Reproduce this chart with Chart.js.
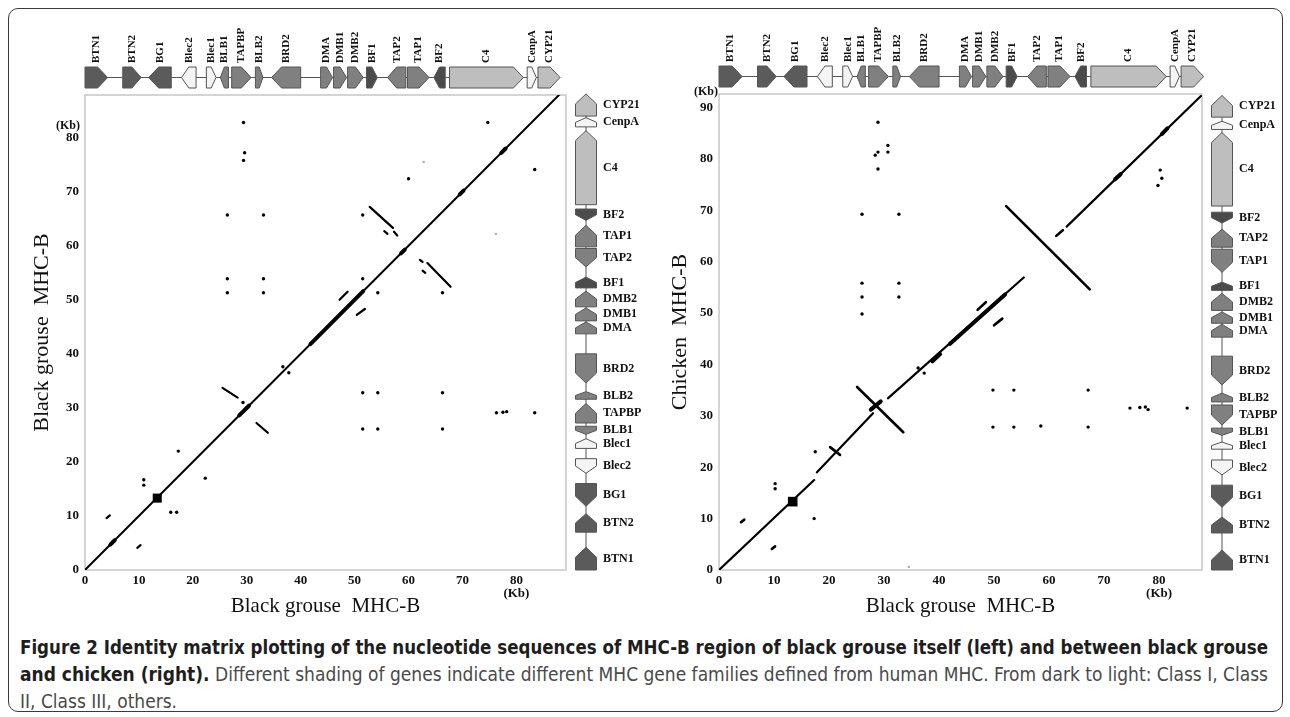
<!DOCTYPE html>
<html>
<head>
<meta charset="utf-8">
<script src="https://cdn.jsdelivr.net/npm/chart.js@4.4.1/dist/chart.umd.min.js"></script>
<style>
  html, body { margin: 0; padding: 0; background: #fff; }
  #fig { position: relative; width: 1290px; height: 717px; overflow: hidden; }
  #frame { position: absolute; left: 8px; top: 8px; width: 1275px; height: 704px;
           border: 1.5px solid #3a3a3a; border-radius: 10px; box-sizing: border-box; }
  canvas { position: absolute; top: 0; }
  #c1 { left: 0; }
  #c2 { left: 645px; }
  .ln { position: absolute; left: 20px; white-space: nowrap; transform-origin: 0 0;
        font-family: "Liberation Sans Narrow", "DejaVu Sans Condensed", "DejaVu Sans", sans-serif;
        font-stretch: condensed; font-size: 20px; line-height: 27px; color: #4a4a4a; }
  .ln b { color: #1e1e1e; }
</style>
</head>
<body>
<div id="fig">
  <div id="frame"></div>
  <canvas id="c1" width="645" height="620"></canvas>
  <canvas id="c2" width="645" height="620"></canvas>
  <span class="ln" id="l1" style="top:634px"><b>Figure 2 Identity matrix plotting of the nucleotide sequences of MHC-B region of black grouse itself (left) and between black grouse</b></span>
  <span class="ln" id="l2" style="top:661px"><b>and chicken (right).</b> Different shading of genes indicate different MHC gene families defined from human MHC. From dark to light: Class I, Class</span>
  <span class="ln" id="l3" style="top:688px">II, Class III, others.</span>
</div>
<script>
// gene maps (kb). strand: 1 forward, -1 reverse. class: 0 BF, 1 BTN/BG, 2 class II, 3 class III, 4 others
var grouseGenes  = ['BTN1','BTN2','BG1','Blec2','Blec1','BLB1','TAPBP','BLB2','BRD2','DMA','DMB1','DMB2','BF1','TAP2','TAP1','BF2','C4','CenpA','CYP21'];
var grouseStart  = [0, 7.0, 11.8, 17.9, 22.5, 25.1, 27.2, 31.6, 34.6, 43.7, 46.1, 48.7, 52.2, 56.1, 59.8, 64.7, 67.6, 82.0, 84.0];
var grouseEnd    = [4.2, 10.4, 16.0, 20.6, 24.3, 26.6, 30.8, 33.0, 40.0, 45.9, 48.5, 51.6, 54.2, 59.5, 63.8, 66.8, 81.3, 83.7, 88.1];
var grouseStrand = [1, 1, -1, -1, 1, -1, 1, 1, -1, 1, 1, 1, 1, -1, 1, -1, 1, 1, 1];
var grouseClass  = [1, 1, 1, 4, 4, 2, 2, 2, 2, 2, 2, 2, 0, 2, 2, 0, 3, 4, 3];

var chickenGenes  = ['BTN1','BTN2','BG1','Blec2','Blec1','BLB1','TAPBP','BLB2','BRD2','DMA','DMB1','DMB2','BF1','TAP1','TAP2','BF2','C4','CenpA','CYP21'];
var chickenStart  = [0, 7.2, 12.2, 18.5, 23.5, 26.2, 28.2, 32.7, 36.0, 45.3, 48.0, 50.5, 54.4, 57.9, 62.8, 67.5, 70.8, 85.7, 88.1];
var chickenEnd    = [3.9, 10.3, 16.5, 21.4, 24.9, 27.6, 32.1, 34.4, 41.6, 47.8, 50.2, 53.8, 56.0, 62.4, 66.3, 69.6, 85.1, 87.3, 92.3];
var chickenStrand = [1, 1, -1, -1, 1, -1, -1, 1, -1, 1, 1, 1, 1, -1, 1, -1, 1, 1, 1];
var chickenClass  = [1, 1, 1, 4, 4, 2, 2, 2, 2, 2, 2, 2, 0, 2, 2, 0, 3, 4, 3];

var classFill = ['#4b4b4b', '#5b5b5b', '#808080', '#bebebe', '#f4f4f4'];

// axis extents and ticks
var selfMaxX = 89.2, selfMaxY = 87.9;
var crossMaxX = 87.8, crossMaxY = 92.6;
var tickStep = 10;

// left plot: black grouse vs itself, hits as [x1, y1, x2, y2] (kb)
var selfLines = [[0, 0, 88.3, 88.3]];
var selfThick = [[4.7, 4.7, 5.5, 5.5], [28.6, 28.6, 30.4, 30.4], [41.8, 41.8, 51.6, 51.6],
                 [58.6, 58.6, 59.3, 59.3], [69.5, 69.5, 70.2, 70.2], [77.2, 77.2, 78.0, 78.0]];
var selfDash = [[4.0, 9.6, 4.6, 10.1], [9.7, 4.1, 10.3, 4.6],
                [25.5, 33.7, 28.3, 31.9], [31.8, 27.2, 33.9, 25.4],
                [52.8, 67.2, 57.1, 63.3], [57.3, 62.6, 57.9, 61.9], [55.5, 62.7, 56.1, 62.2],
                [63.5, 56.8, 67.8, 52.4], [62.1, 57.4, 62.6, 57.0], [62.6, 55.4, 63.1, 55.0],
                [47.2, 50.0, 48.7, 51.5], [50.4, 47.2, 51.9, 48.3]];
var selfDots = [[29.4, 82.8], [29.6, 77.2], [29.4, 75.8], [74.7, 82.8], [83.4, 74.1], [60.0, 72.4],
                [51.5, 65.7], [66.3, 51.3], [51.5, 53.9], [54.3, 51.3],
                [10.9, 16.7], [10.9, 15.7], [15.9, 10.7], [17.0, 10.7], [17.3, 22.0], [22.3, 17.0],
                [29.3, 31.0], [36.7, 37.6], [37.8, 36.5],
                [51.5, 32.8], [54.3, 32.8], [66.3, 32.8], [51.5, 26.1], [54.3, 26.1], [66.3, 26.1],
                [76.3, 29.1], [77.5, 29.2], [78.2, 29.3], [83.4, 29.1],
                [26.4, 65.7], [33.1, 65.7], [26.4, 53.9], [33.1, 53.9], [26.4, 51.3], [33.1, 51.3]];
var selfFaint = [[62.8, 75.5], [76.2, 62.2]];
var selfBlock = [[13.4, 13.3]];

// right plot: black grouse (x) vs chicken (y)
var crossLines = [[0, 0, 17.3, 17.5], [17.8, 19.0, 28.0, 30.5], [30.7, 33.4, 55.4, 56.9], [63.2, 66.8, 87.6, 92.2]];
var crossThick = [[27.6, 31.2, 29.4, 32.8], [38.8, 40.6, 40.2, 42.0], [42.0, 44.0, 52.0, 53.6],
                  [72.0, 76.0, 73.0, 77.0], [80.5, 84.8, 81.5, 85.9]];
var crossDash = [[4.0, 9.3, 4.6, 9.8], [9.6, 4.1, 10.2, 4.6], [20.2, 23.9, 22.0, 22.4],
                 [25.1, 35.6, 33.5, 26.8], [52.2, 70.8, 67.4, 54.6], [61.3, 65.0, 62.5, 66.1],
                 [47.0, 50.6, 48.5, 52.1], [50.0, 47.6, 51.5, 48.9]];
var crossDots = [[28.9, 87.1], [28.9, 81.3], [28.4, 80.7], [30.7, 82.6], [30.7, 81.3], [28.9, 78.0],
                 [26.0, 69.2], [32.7, 69.2], [26.0, 55.8], [32.7, 55.8], [26.0, 53.1], [32.7, 53.1], [26.0, 49.8],
                 [36.2, 39.3], [37.3, 38.3],
                 [10.2, 15.8], [10.2, 16.8], [17.3, 10.0], [17.5, 23.0],
                 [49.8, 35.0], [53.6, 35.0], [67.1, 35.0], [49.8, 27.8], [53.6, 27.8], [58.5, 28.0], [67.1, 27.8],
                 [74.7, 31.5], [76.5, 31.6], [77.5, 31.7], [78.0, 31.2], [85.1, 31.5],
                 [80.2, 77.8], [80.5, 76.2], [79.8, 74.8]];
var crossFaint = [[34.5, 0.6]];
var crossBlock = [[13.4, 13.3]];

function segData(segs) {
  var pts = [];
  segs.forEach(function (s) {
    pts.push({ x: s[0], y: s[1] }, { x: s[2], y: s[3] }, { x: s[2], y: null });
  });
  return pts;
}
function ptData(list) {
  return list.map(function (p) { return { x: p[0], y: p[1] }; });
}

function lineSet(segs, w) {
  return { data: segData(segs), showLine: true, borderColor: '#000', borderWidth: w,
           pointRadius: 0, borderCapStyle: 'round', spanGaps: false };
}
function dotSet(list, r, col, style) {
  return { data: ptData(list), showLine: false, pointRadius: r, pointStyle: style || 'circle',
           pointBackgroundColor: col, pointBorderWidth: 0 };
}

// gene arrow along a track
function drawGene(ctx, s, e, strand, across, half, horiz) {
  if (strand < 0) { var t = s; s = e; e = t; }
  var dir = e > s ? 1 : -1;
  var head = Math.min(10, Math.abs(e - s) / 2);
  var pts = [[s, -half], [e - dir * head, -half], [e, 0], [e - dir * head, half], [s, half]];
  ctx.beginPath();
  pts.forEach(function (p, i) {
    var x = horiz ? p[0] : across + p[1];
    var y = horiz ? across + p[1] : p[0];
    if (i) ctx.lineTo(x, y); else ctx.moveTo(x, y);
  });
  ctx.closePath();
  ctx.fill();
  ctx.stroke();
}

function trackPlugin(topMap, sideMap, kbY) {
  return {
    id: 'tracks',
    beforeDatasetsDraw: function (chart) {
      var a = chart.chartArea, ctx = chart.ctx;
      ctx.save();
      ctx.strokeStyle = '#c6c6c6';
      ctx.lineWidth = 1.5;
      ctx.strokeRect(a.left, a.top, a.right - a.left, a.bottom - a.top);
      ctx.restore();
    },
    afterDraw: function (chart) {
      var ctx = chart.ctx, a = chart.chartArea;
      var xs = chart.scales.x, ys = chart.scales.y;
      var half = 10.5;
      ctx.save();
      ctx.lineWidth = 1;
      ctx.strokeStyle = '#555';

      // top track (x axis genes)
      var cy = a.top - 17.5;
      ctx.beginPath();
      ctx.moveTo(xs.getPixelForValue(topMap.start[0]), cy);
      ctx.lineTo(xs.getPixelForValue(topMap.end[topMap.end.length - 1]), cy);
      ctx.stroke();
      topMap.names.forEach(function (n, i) {
        ctx.fillStyle = classFill[topMap.cls[i]];
        drawGene(ctx, xs.getPixelForValue(topMap.start[i]), xs.getPixelForValue(topMap.end[i]),
                 topMap.strand[i], cy, half, true);
      });
      ctx.fillStyle = '#111';
      ctx.font = 'bold 11px "Liberation Serif"';
      ctx.textAlign = 'left';
      ctx.textBaseline = 'middle';
      topMap.names.forEach(function (n, i) {
        var cx = xs.getPixelForValue((topMap.start[i] + topMap.end[i]) / 2);
        ctx.save();
        ctx.translate(cx, cy - half - 4);
        ctx.rotate(-Math.PI / 2);
        ctx.fillText(n, 0, 0);
        ctx.restore();
      });

      // side track (y axis genes)
      var cx2 = a.right + 20;
      ctx.strokeStyle = '#555';
      ctx.beginPath();
      ctx.moveTo(cx2, ys.getPixelForValue(sideMap.start[0]));
      ctx.lineTo(cx2, ys.getPixelForValue(sideMap.end[sideMap.end.length - 1]));
      ctx.stroke();
      sideMap.names.forEach(function (n, i) {
        ctx.fillStyle = classFill[sideMap.cls[i]];
        drawGene(ctx, ys.getPixelForValue(sideMap.start[i]), ys.getPixelForValue(sideMap.end[i]),
                 sideMap.strand[i], cx2, half, false);
      });
      ctx.fillStyle = '#111';
      ctx.font = 'bold 12px "Liberation Serif"';
      sideMap.names.forEach(function (n, i) {
        var y = ys.getPixelForValue((sideMap.start[i] + sideMap.end[i]) / 2);
        ctx.fillText(n, cx2 + 17, y);
      });

      // (Kb) unit on y axis
      ctx.font = 'bold 12px "Liberation Serif"';
      ctx.textAlign = 'right';
      if (kbY === 'tick') {
        ctx.fillText('(Kb)', a.left - 5, ys.getPixelForValue(80) - 12);
      } else {
        ctx.fillText('(Kb)', a.left - 1, a.top - 2);
      }
      ctx.restore();
    }
  };
}

function makeChart(id, o) {
  var tickFont = { family: 'Liberation Serif', weight: 'bold', size: 13, lineHeight: 1 };
  return new Chart(document.getElementById(id), {
    type: 'scatter',
    data: { datasets: o.datasets },
    options: {
      responsive: false,
      animation: false,
      events: [],
      layout: { padding: { left: 0, top: o.top, right: o.right, bottom: 0 } },
      plugins: { legend: { display: false }, tooltip: { enabled: false } },
      scales: {
        x: {
          type: 'linear', min: 0, max: o.maxX,
          grid: { display: false, drawTicks: false }, border: { display: false },
          ticks: { stepSize: tickStep, includeBounds: false, padding: 4, color: '#111', font: tickFont,
                   maxRotation: 0, autoSkip: false,
                   callback: function (v) { return v === 80 ? ['80', '(Kb)'] : String(v); } },
          title: { display: true, text: 'Black grouse  MHC-B', color: '#111',
                   font: { family: 'Liberation Serif', size: 21 }, padding: { top: 0, bottom: 1.4 } },
          afterFit: function (s) { s.height = 50; }
        },
        y: {
          type: 'linear', min: 0, max: o.maxY,
          grid: { display: false, drawTicks: false }, border: { display: false },
          ticks: { stepSize: tickStep, includeBounds: false, padding: 6, color: '#111', font: tickFont,
                   autoSkip: false },
          title: { display: true, text: o.yTitle, color: '#111',
                   font: { family: 'Liberation Serif', size: 22 }, padding: { top: o.titlePad, bottom: 0 } },
          afterFit: function (s) { s.width = o.axisW; }
        }
      }
    },
    plugins: [trackPlugin(o.topMap, o.sideMap, o.kbY)]
  });
}

var grouseMap = { names: grouseGenes, start: grouseStart, end: grouseEnd, strand: grouseStrand, cls: grouseClass };
var chickenMap = { names: chickenGenes, start: chickenStart, end: chickenEnd, strand: chickenStrand, cls: chickenClass };

makeChart('c1', {
  maxX: selfMaxX, maxY: selfMaxY, top: 95, right: 79, axisW: 85, titlePad: 28.8,
  yTitle: 'Black grouse  MHC-B', topMap: grouseMap, sideMap: grouseMap, kbY: 'tick',
  datasets: [
    lineSet(selfLines, 2), lineSet(selfThick, 4), lineSet(selfDash, 2.2),
    dotSet(selfDots, 1.7, '#000'), dotSet(selfFaint, 1.2, '#aaa'),
    dotSet(selfBlock, 6.4, '#000', 'rect')
  ]
});

makeChart('c2', {
  maxX: crossMaxX, maxY: crossMaxY, top: 94, right: 88, axisW: 74, titlePad: 21.8,
  yTitle: 'Chicken  MHC-B', topMap: grouseMap, sideMap: chickenMap, kbY: 'top',
  datasets: [
    lineSet(crossLines, 2.2), lineSet(crossThick, 4), lineSet(crossDash, 2.6),
    dotSet(crossDots, 1.7, '#000'), dotSet(crossFaint, 1.2, '#aaa'),
    dotSet(crossBlock, 6.8, '#000', 'rect')
  ]
});

// fit caption lines to the text block width
(function () {
  var target = 1248;
  var l1 = document.getElementById('l1'), l2 = document.getElementById('l2'), l3 = document.getElementById('l3');
  var s1 = target / l1.getBoundingClientRect().width;
  var s2 = target / l2.getBoundingClientRect().width;
  l1.style.transform = 'scaleX(' + s1 + ')';
  l2.style.transform = 'scaleX(' + s2 + ')';
  l3.style.transform = 'scaleX(' + s2 + ')';
})();
</script>
</body>
</html>
